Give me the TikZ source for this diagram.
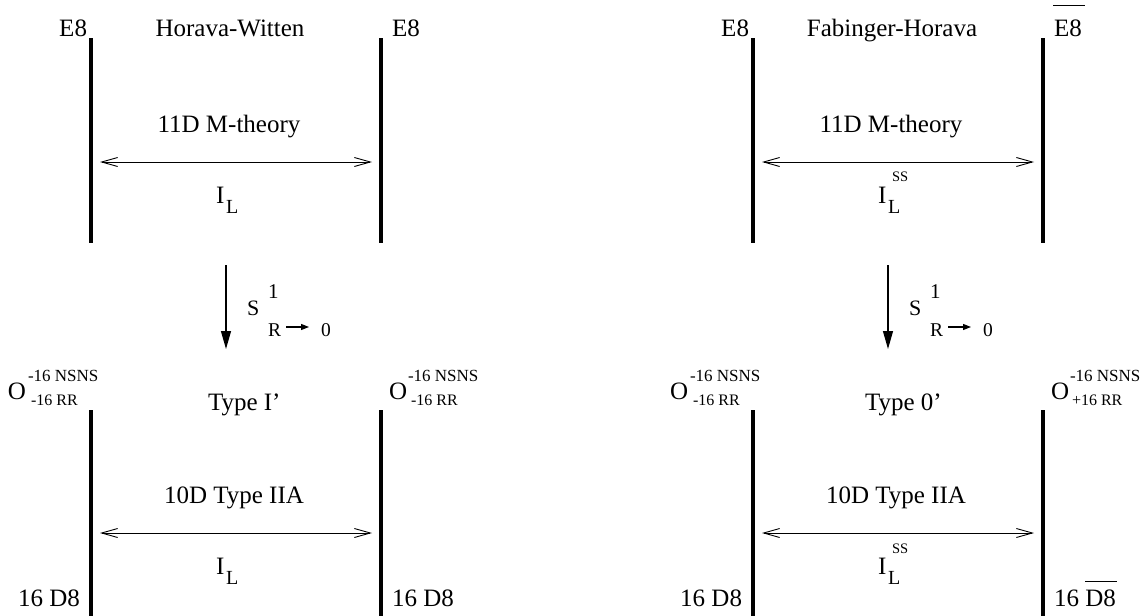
\documentclass[tikz,border=0pt]{standalone}
\usepackage{fontspec}
\setmainfont{Liberation Serif}
\usetikzlibrary{arrows.meta}
\tikzset{
  txt/.style={inner sep=0pt, outer sep=0pt, font=\fontsize{25}{30}\selectfont},
  sup/.style={inner sep=0pt, outer sep=0pt, font=\fontsize{17}{20}\selectfont},
  subsc/.style={inner sep=0pt, outer sep=0pt, font=\fontsize{16}{19}\selectfont},
  lsub/.style={inner sep=0pt, outer sep=0pt, font=\fontsize{20}{24}\selectfont},
  sssup/.style={inner sep=0pt, outer sep=0pt, font=\fontsize{14.5}{17}\selectfont},
  brane/.style={line width=4pt},
  dbl/.style={line width=0.9pt, {Straight Barb[length=16pt,width=9pt]}-{Straight Barb[length=16pt,width=9pt]}},
  down/.style={line width=1.2pt, -{Triangle[length=18pt,width=10pt]}},
  small/.style={line width=1.2pt, -{Triangle[length=8pt,width=6pt]}},
}
\begin{document}
\begin{tikzpicture}[x=1pt,y=-1pt]
\useasboundingbox (0,0) rectangle (1144,616);
\foreach \o/\n in {0/A,662/B}{
  % branes
  \coordinate (\n t1a) at (91+\o,38); \coordinate (\n t1b) at (91+\o,243);
  \coordinate (\n t2a) at (381+\o,38); \coordinate (\n t2b) at (381+\o,243);
  \coordinate (\n b1a) at (91+\o,410); \coordinate (\n b1b) at (91+\o,616);
  \coordinate (\n b2a) at (381+\o,410); \coordinate (\n b2b) at (381+\o,616);
  \draw[brane] (\n t1a) -- (\n t1b);
  \draw[brane] (\n t2a) -- (\n t2b);
  \draw[brane] (\n b1a) -- (\n b1b);
  \draw[brane] (\n b2a) -- (\n b2b);
  % interval arrows
  \coordinate (\n ha1) at (100+\o,162); \coordinate (\n ha2) at (372+\o,162);
  \coordinate (\n hb1) at (100+\o,533); \coordinate (\n hb2) at (372+\o,533);
  \draw[dbl] (\n ha1) -- (\n ha2);
  \draw[dbl] (\n hb1) -- (\n hb2);
  % reduction arrow
  \coordinate (\n d1) at (226+\o,265); \coordinate (\n d2) at (226+\o,349);
  \draw[down] (\n d1) -- (\n d2);
  \node[txt, font=\fontsize{22}{26}\selectfont, anchor=base west] (\n S) at (247+\o,315) {S};
  \node[txt, font=\fontsize{21}{25}\selectfont, anchor=base west] (\n one) at (268+\o,298) {1};
  \node[lsub, font=\fontsize{19.5}{23}\selectfont, anchor=base west] (\n R) at (268+\o,336) {R};
  \node[lsub, font=\fontsize{19.5}{23}\selectfont, anchor=base west] (\n zero) at (321+\o,336) {0};
  \coordinate (\n s1) at (286+\o,327); \coordinate (\n s2) at (309+\o,327);
  \draw[small] (\n s1) -- (\n s2);
  % top texts
  \node[txt, anchor=base east] (\n E1) at (87+\o,36) {E8};
  \node[txt, anchor=base west] (\n E2) at (392+\o,36) {E8};
  \node[txt, anchor=base] (\n M) at (229+\o,132) {11D M-theory};
  \node[txt, anchor=base west] (\n I1) at (216+\o,203) {I};
  \node[lsub, anchor=base west] (\n L1) at (226+\o,213) {L};
  % bottom texts
  \node[txt, anchor=base west] (\n O1) at (8+\o,399) {O};
  \node[sup, anchor=base west] (\n O1p) at (28+\o,381) {-16 NSNS};
  \node[subsc, anchor=base west] (\n O1m) at (31+\o,405) {-16 RR};
  \node[txt, anchor=base west] (\n O2) at (389+\o,399) {O};
  \node[sup, anchor=base west] (\n O2p) at (408+\o,381) {-16 NSNS};
  \node[txt, anchor=base] (\n II) at (234+\o,503) {10D Type IIA};
  \node[txt, anchor=base west] (\n I2) at (216+\o,574) {I};
  \node[lsub, anchor=base west] (\n L2) at (226+\o,584) {L};
  \node[txt, anchor=base east] (\n D1) at (80+\o,606) {16 D8};
  \node[txt, anchor=base west] (\n D2) at (392+\o,606) {16 D8};
}
\node[txt, anchor=base] (hw) at (230,36) {Horava-Witten};
\node[txt, anchor=base] (fh) at (892,36) {Fabinger-Horava};
\node[txt, anchor=base west] (t1) at (208,410) {Type I'};
\node[txt, anchor=base west] (t0) at (865,410) {Type 0'};
\node[subsc, anchor=base west] (AO2m) at (411,405) {-16 RR};
\node[subsc, anchor=base west] (BO2m) at (1072,405) {+16 RR};
\node[sssup, anchor=base west] (ss1) at (892,181) {SS};
\node[sssup, anchor=base west] (ss2) at (892,553) {SS};
% overlines
\coordinate (ob1) at (1053,5); \coordinate (ob2) at (1085,5);
\draw[line width=1pt] (ob1) -- (ob2);
\coordinate (od1) at (1085,581); \coordinate (od2) at (1117,581);
\draw[line width=1pt] (od1) -- (od2);
\end{tikzpicture}
\end{document}
